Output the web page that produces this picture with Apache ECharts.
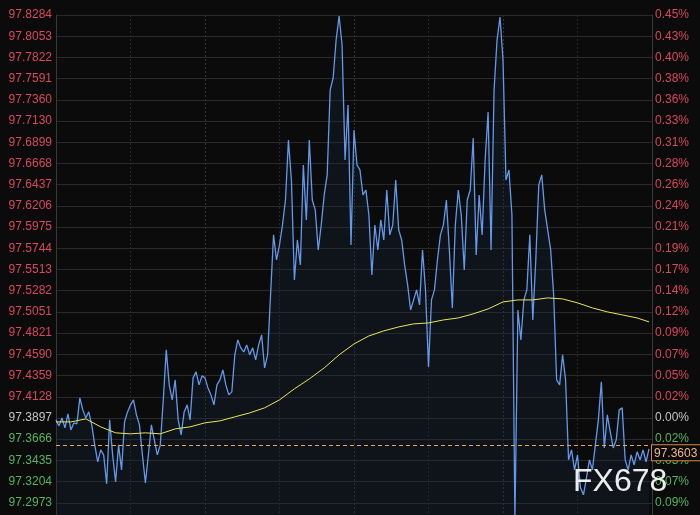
<!DOCTYPE html>
<html>
<head>
<meta charset="utf-8">
<script src="https://cdn.jsdelivr.net/npm/echarts@6/dist/echarts.min.js"></script>
<style>
html,body{margin:0;padding:0;background:#0b0b0b;}
#c{width:700px;height:515px;}
</style>
</head>
<body>
<div id="c"></div>
<script>
// ---- data ----
var prevClose = 97.3897;
var lastPrice = 97.3603;
var tickStep = 0.0230895;
var yMin = 97.2742525;
var yMax = 97.8284005;

// left tick labels, bottom (off-canvas) to top
var priceTicks = ['97.2743','97.2973','97.3204','97.3435','97.3666','97.3897','97.4128','97.4359','97.4590','97.4821','97.5051','97.5282','97.5513','97.5744','97.5975','97.6206','97.6437','97.6668','97.6899','97.7130','97.7360','97.7591','97.7822','97.8053','97.8284'];
// right tick labels, bottom to top
var pctTicks = ['0.12%','0.09%','0.07%','0.05%','0.02%','0.00%','0.02%','0.05%','0.07%','0.09%','0.12%','0.14%','0.17%','0.19%','0.21%','0.24%','0.26%','0.28%','0.31%','0.33%','0.36%','0.38%','0.40%','0.43%','0.45%'];

var prices = [
97.3876,97.3811,97.3898,97.3789,97.3941,97.3767,97.3844,97.3833,97.4116,97.3985,
97.3898,97.3963,97.3822,97.3604,97.3419,97.3550,97.3495,97.3180,97.3876,97.3495,
97.3201,97.3604,97.3332,97.3854,97.3963,97.4039,97.4094,97.3931,97.3822,97.3495,
97.3191,97.3495,97.3822,97.3659,97.3495,97.3604,97.4094,97.4638,97.4257,97.4094,
97.4311,97.3876,97.3713,97.3963,97.4039,97.3876,97.4333,97.4399,97.4257,97.4355,
97.4333,97.4224,97.4148,97.4039,97.4257,97.4311,97.4420,97.4257,97.4148,97.4181,
97.4584,97.4747,97.4660,97.4616,97.4692,97.4584,97.4660,97.4529,97.4692,97.4801,
97.4442,97.4584,97.5237,97.5890,97.5617,97.5781,97.5998,97.6270,97.6923,97.6488,
97.5400,97.5835,97.5563,97.6651,97.6053,97.6923,97.6270,97.6162,97.5726,97.5998,
97.6325,97.6543,97.7468,97.7598,97.8012,97.8273,97.7957,97.6706,97.7304,97.5781,
97.7032,97.6651,97.6597,97.6325,97.6379,97.6107,97.5454,97.5998,97.5726,97.6053,
97.5835,97.6379,97.5890,97.5998,97.6488,97.5944,97.5835,97.5563,97.5345,97.5073,
97.5182,97.5291,97.5128,97.5726,97.5291,97.4453,97.5182,97.5291,97.5617,97.5890,
97.5998,97.6270,97.5726,97.5095,97.5998,97.6379,97.6107,97.5509,97.6270,97.6379,
97.6945,97.5672,97.6325,97.5890,97.6706,97.7228,97.5726,97.7468,97.8012,97.8262,
97.7794,97.6488,97.6597,97.6107,97.2788,97.5073,97.4747,97.5182,97.5291,97.5890,
97.4964,97.5617,97.6434,97.6543,97.6162,97.5944,97.5726,97.5237,97.4311,97.4257,
97.4584,97.4311,97.3441,97.3550,97.3332,97.3495,97.3136,97.3060,97.3245,97.3441,
97.3332,97.3604,97.3876,97.4290,97.3571,97.3931,97.3746,97.3571,97.3659,97.3985,
97.4007,97.3441,97.3332,97.3495,97.3386,97.3528,97.3441,97.3550,97.3419,97.3560
];

// average line, read at these category positions
var avgIdx = [0,5,10,15,20,25,30,35,40,45,50,55,60,65,70,75,80,85,90,95,100,105,110,115,120,125,130,135,140,145,150,155,160,165,170,175,180,185,190,195,199];
var avgVals = [97.3854,97.3854,97.3887,97.3800,97.3735,97.3724,97.3735,97.3724,97.3778,97.3800,
97.3844,97.3865,97.3909,97.3952,97.4007,97.4094,97.4214,97.4322,97.4442,97.4584,
97.4703,97.4790,97.4845,97.4888,97.4921,97.4932,97.4964,97.4986,97.5030,97.5084,
97.5160,97.5182,97.5182,97.5204,97.5193,97.5150,97.5095,97.5052,97.5019,97.4986,97.4943];

var slotCount = 201;
var categories = [];
for (var i = 0; i < slotCount; i++) categories.push(String(i));

function tickIndex(v){ return Math.round((v - yMin) / tickStep); }
function styleFor(k){ return k > 5 ? 'u' : (k === 5 ? 'z' : 'd'); }

var avgData = avgIdx.map(function(ix, j){ return [ix, avgVals[j]]; });

var rich = {
  u:{color:'#d9485c', fontSize:12, fontFamily:'Liberation Sans, Arial, sans-serif'},
  z:{color:'#c4c4c4', fontSize:12, fontFamily:'Liberation Sans, Arial, sans-serif'},
  d:{color:'#55b463', fontSize:12, fontFamily:'Liberation Sans, Arial, sans-serif'}
};

var chart = echarts.init(document.getElementById('c'), null, {renderer:'canvas'});
chart.setOption({
  backgroundColor:'#0b0b0b',
  animation:false,
  grid:{left:56, right:48, top:15, height:509, outerBoundsMode:'none', containLabel:false},
  xAxis:{
    type:'category', data:categories, boundaryGap:false,
    axisLine:{show:false}, axisTick:{show:false}, axisLabel:{show:false},
    splitLine:{show:true, interval:24, lineStyle:{color:['#333333','#272727'], type:[2,2], width:1}}
  },
  yAxis:[{
    type:'value', position:'left', min:yMin, max:yMax, interval:tickStep,
    axisLine:{show:true, lineStyle:{color:'#3a3a3a'}},
    axisTick:{show:false},
    axisLabel:{margin:4, formatter:function(v){ var k=tickIndex(v); return '{'+styleFor(k)+'|'+priceTicks[k]+'}'; }, rich:rich},
    splitLine:{show:true, lineStyle:{color:'#2a2a2a', width:1}}
  },{
    type:'value', position:'right', min:yMin, max:yMax, interval:tickStep,
    axisLine:{show:true, lineStyle:{color:'#3a3a3a'}},
    axisTick:{show:false},
    axisLabel:{margin:3, formatter:function(v){ var k=tickIndex(v); return '{'+styleFor(k)+'|'+pctTicks[k]+'}'; }, rich:rich},
    splitLine:{show:false}
  }],
  series:[{
    type:'line', data:prices, yAxisIndex:0, symbol:'none', sampling:null,
    lineStyle:{color:'#6399ea', width:1.3},
    itemStyle:{color:'#6399ea'},
    areaStyle:{color:'rgba(28,45,70,0.38)', origin:'start'},
    z:3,
    markLine:{
      silent:true, symbol:['none','none'],
      data:[{yAxis:lastPrice}],
      lineStyle:{type:[4,3], color:'#e8a848', width:1},
      label:{show:true, position:'end', distance:0, verticalAlign:'top',
        formatter:function(){ return lastPrice.toFixed(4); },
        color:'#f2b48c', fontSize:12, fontFamily:'Liberation Sans, Arial, sans-serif',
        backgroundColor:'#0b0b0b', borderColor:'#d9884a', borderWidth:1, padding:[2,3,1,2]}
    }
  },{
    type:'line', data:avgData, yAxisIndex:0, symbol:'none', connectNulls:true,
    lineStyle:{color:'#e6e65a', width:1}, z:4
  }],
  graphic:[{
    type:'text', left:573, top:466, z:100,
    style:{text:'FX678', fill:'rgba(255,255,255,0.92)', font:'32px "Liberation Sans", Arial, sans-serif'}
  }]
});
</script>
</body>
</html>
